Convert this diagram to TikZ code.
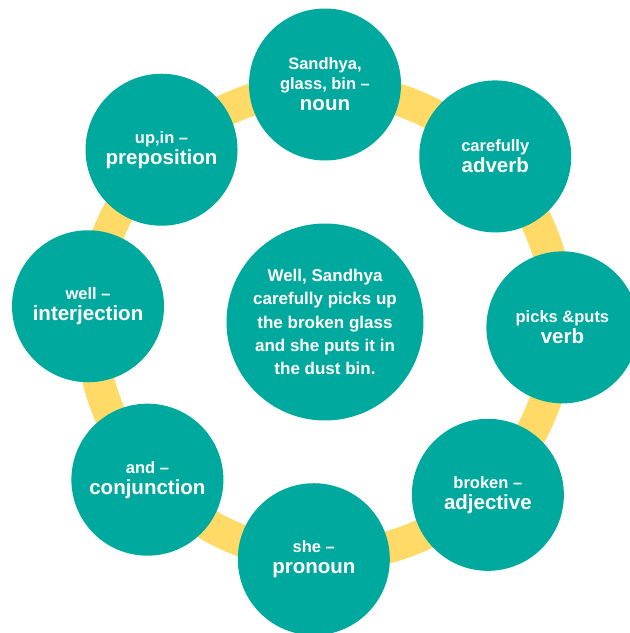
\documentclass[tikz,border=0pt]{standalone}
\usepackage{fontspec}
\setmainfont{Liberation Sans}
\usepackage{tikz}
\usetikzlibrary{positioning}
\definecolor{tealfill}{RGB}{0,169,157}
\definecolor{ringyellow}{RGB}{255,218,102}
\newcommand{\wordclass}[1]{{\fontsize{20.5}{22}\selectfont #1}}

\tikzset{
  part/.style={circle, fill=tealfill, text=white, minimum size=152pt, inner sep=0pt,
    align=center, font=\bfseries\fontsize{16.5}{20}\selectfont},
  hub/.style={part, minimum size=197pt, font=\bfseries\fontsize{17}{23.3}\selectfont},
  ring/.style={draw=ringyellow, line width=32pt}
}

\begin{document}
\begin{tikzpicture}[x=1pt, y=1pt]
    \useasboundingbox (-325,-311) rectangle (305,322);
    \clip (-325,-311) rectangle (305,322);
    \coordinate (c) at (0,0);
    \draw[ring] (c) circle (234);

    \node[hub] (sentence) at (c) {Well, Sandhya\\carefully picks up\\the broken glass\\and she puts it in\\the dust bin.};
    \node[part] (noun) at (90:237.5) {Sandhya,\\glass, bin --\\[1pt]\wordclass{noun}};
    \node[part] (adverb) at (44.2:237.5) {carefully\\[1pt]\wordclass{adverb}};
    \node[part] (verb) at (-1.3:237.5) {picks \&puts\\[1pt]\wordclass{verb}};
    \node[part] (adjective) at (-46.7:237.5) {broken --\\[1pt]\wordclass{adjective}};
    \node[part] (pronoun) at (-92.7:237.5) {she --\\[1pt]\wordclass{pronoun}};
    \node[part] (conjunction) at (221.6:237.5) {and --\\[1pt]\wordclass{conjunction}};
    \node[part] (interjection) at (176.2:237.5) {well --\\[1pt]\wordclass{interjection}};
    \node[part] (preposition) at (133.5:237.5) {up,in --\\[1pt]\wordclass{preposition}};
\end{tikzpicture}
\end{document}
